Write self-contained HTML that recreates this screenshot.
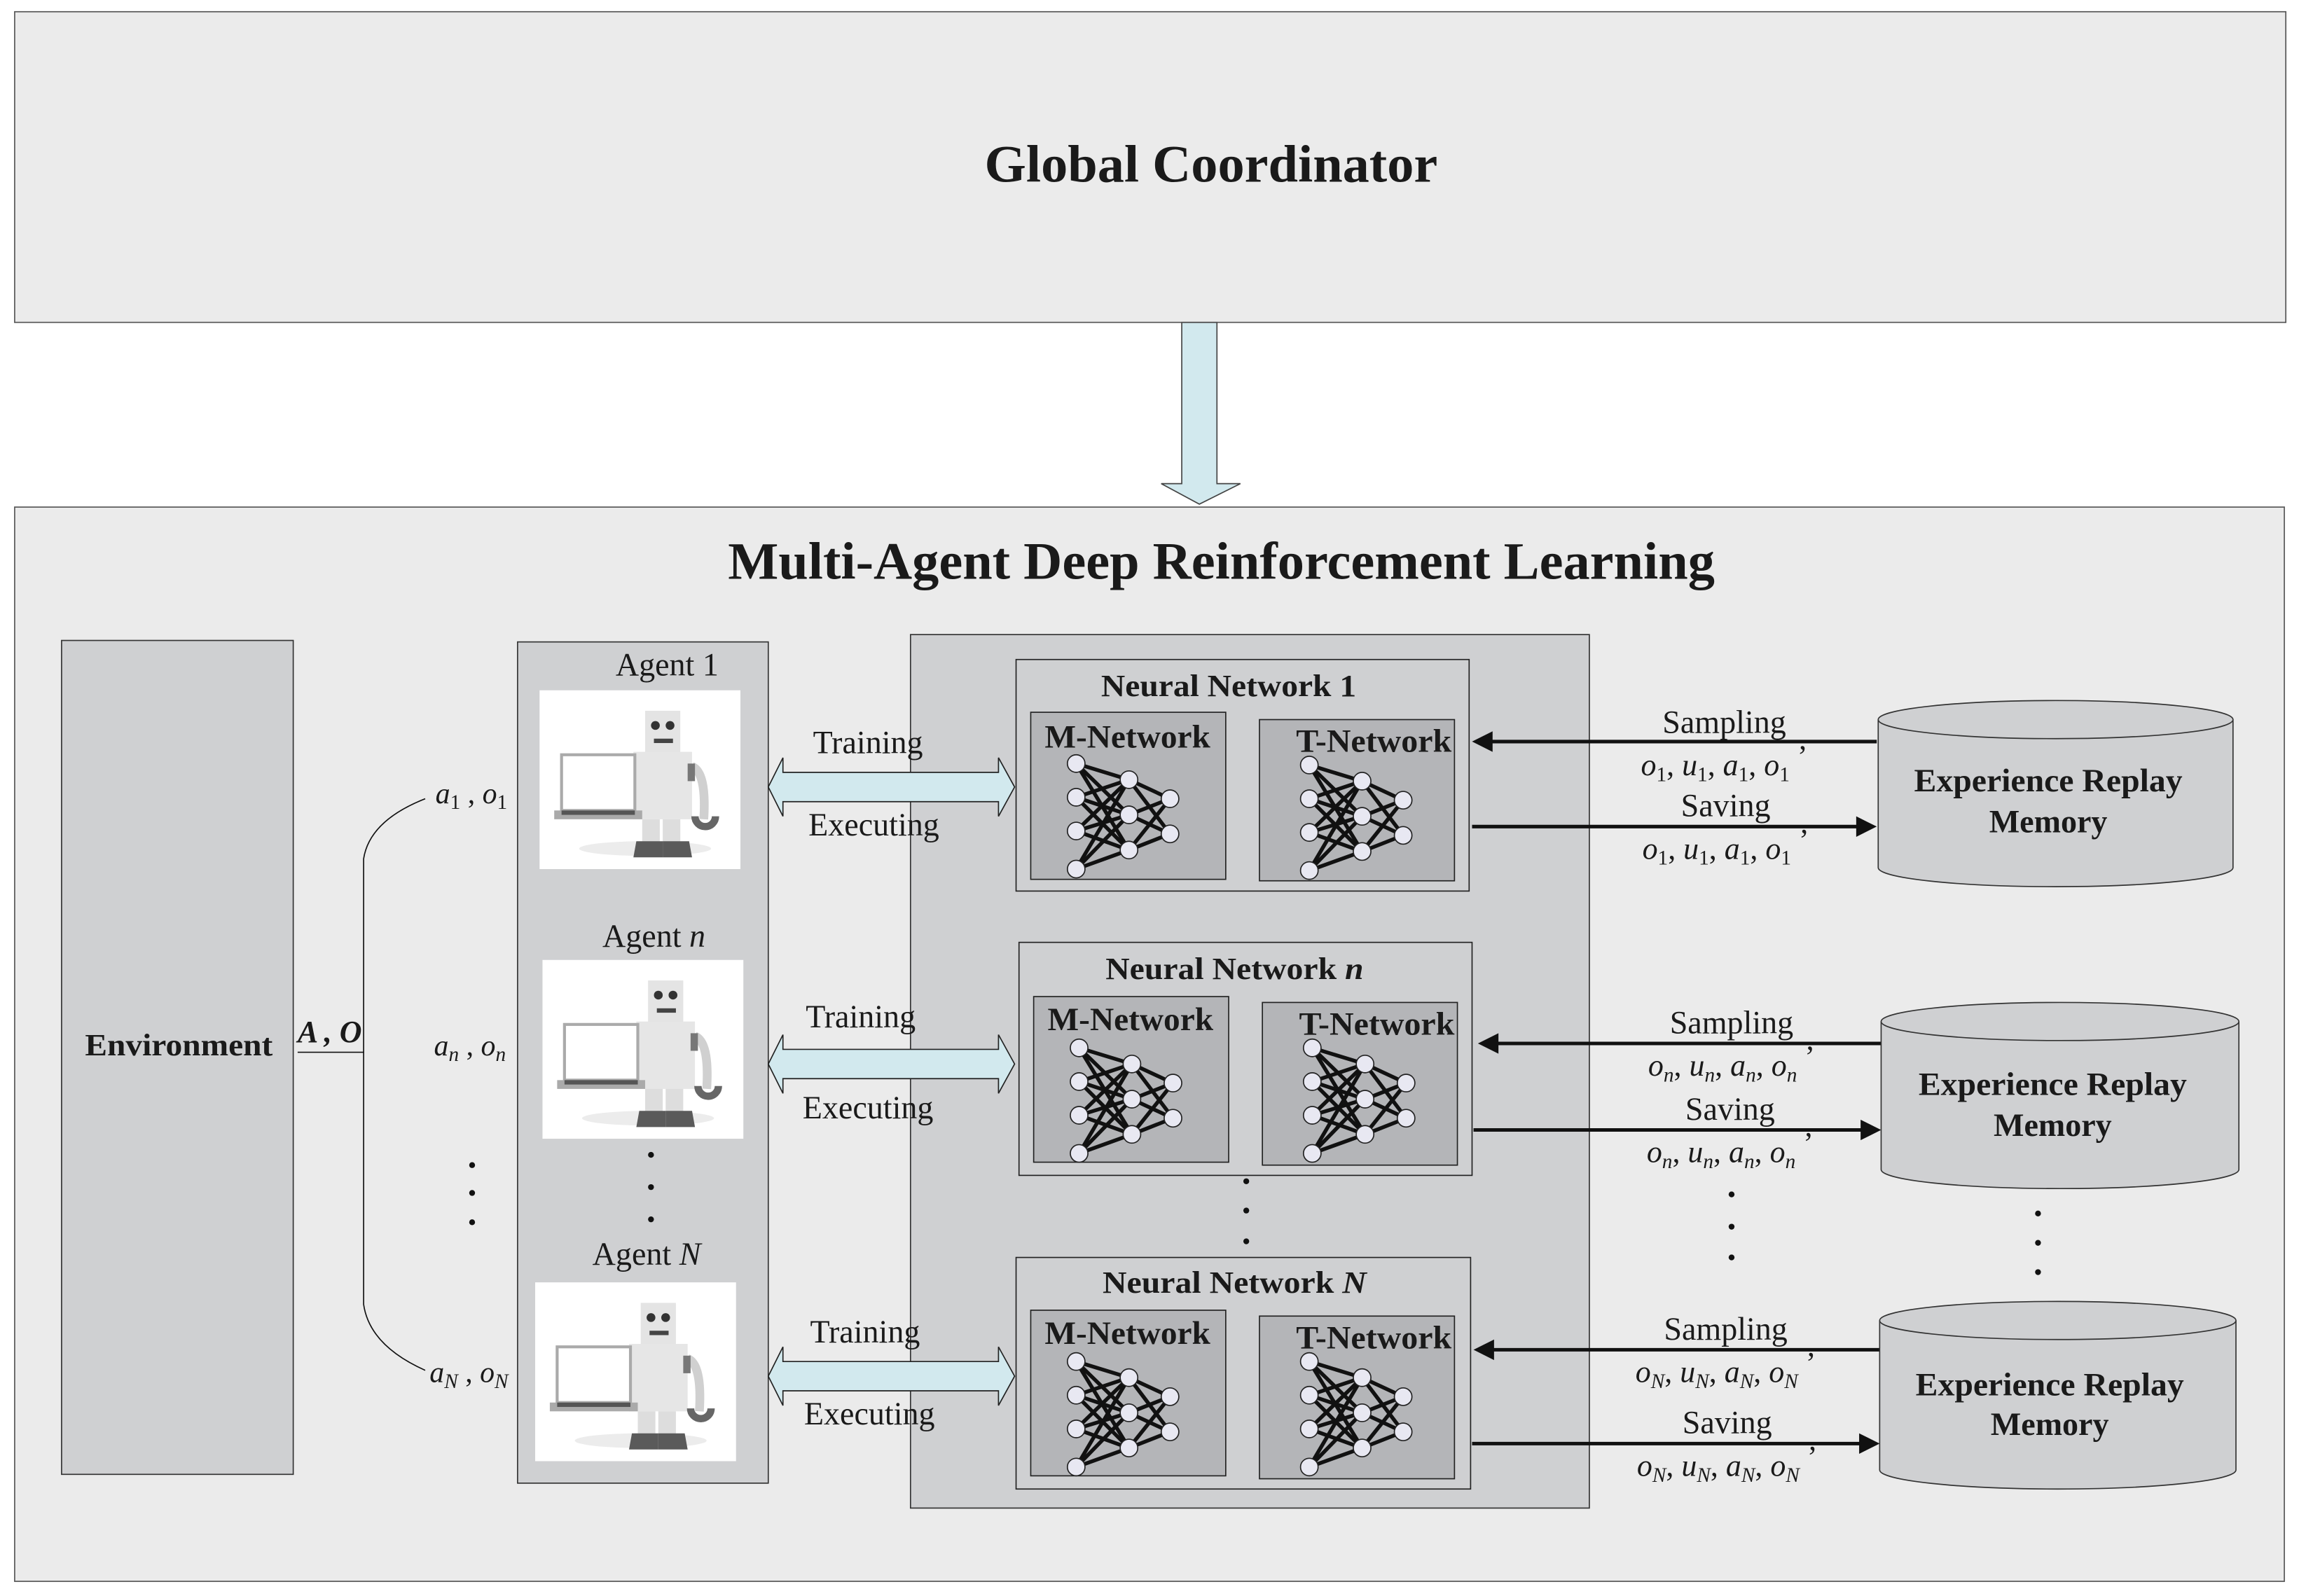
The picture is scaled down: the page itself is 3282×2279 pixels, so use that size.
<!DOCTYPE html>
<html><head><meta charset="utf-8"><style>
html,body{margin:0;padding:0;background:#fff;}
svg{display:block;}
text{font-family:"Liberation Serif",serif;fill:#1a1a1a;}
.b{font-weight:bold;}
.i{font-style:italic;}
</style></head><body>
<svg width="3282" height="2279" viewBox="0 0 1568 1089" preserveAspectRatio="none" xmlns="http://www.w3.org/2000/svg">
<defs>
<g id="robot">
<rect x="0" y="0" width="137" height="122" fill="#fff"/>
<ellipse cx="72" cy="108" rx="45" ry="5" fill="#ececec"/>
<rect x="72" y="14" width="24" height="30" fill="#e4e4e4"/>
<circle cx="79" cy="24" r="3" fill="#333"/><circle cx="89" cy="24" r="3" fill="#333"/>
<rect x="78" y="33" width="13" height="3" fill="#444"/>
<rect x="64" y="42" width="40" height="46" fill="#e6e6e6"/>
<path d="M104,52 Q114,56 112,88" stroke="#d0d0d0" stroke-width="6" fill="none"/>
<rect x="101" y="50" width="5" height="12" fill="#777"/>
<path d="M106,86 a7,7 0 1 0 14,0" stroke="#666" stroke-width="5" fill="none"/>
<rect x="15" y="44" width="50" height="38" fill="#fff" stroke="#aaa" stroke-width="2"/>
<rect x="10" y="82" width="60" height="6" fill="#aaa"/>
<rect x="15" y="82" width="50" height="3" fill="#555"/>
<rect x="70" y="88" width="12" height="18" fill="#ddd"/><rect x="84" y="88" width="12" height="18" fill="#ddd"/>
<path d="M66,103 L84,103 L84,114 L64,114 Z" fill="#5a5a5a"/><path d="M84,103 L102,103 L104,114 L84,114 Z" fill="#5a5a5a"/>
</g>
<g id="net" stroke="#111" stroke-width="2.6">
<line x1="31" y1="35" x2="67" y2="46"/><line x1="31" y1="35" x2="67" y2="70"/><line x1="31" y1="35" x2="67" y2="94"/>
<line x1="31" y1="58" x2="67" y2="46"/><line x1="31" y1="58" x2="67" y2="70"/><line x1="31" y1="58" x2="67" y2="94"/>
<line x1="31" y1="81" x2="67" y2="46"/><line x1="31" y1="81" x2="67" y2="70"/><line x1="31" y1="81" x2="67" y2="94"/>
<line x1="31" y1="107" x2="67" y2="46"/><line x1="31" y1="107" x2="67" y2="70"/><line x1="31" y1="107" x2="67" y2="94"/>
<line x1="67" y1="46" x2="95" y2="59"/><line x1="67" y1="46" x2="95" y2="83"/>
<line x1="67" y1="70" x2="95" y2="59"/><line x1="67" y1="70" x2="95" y2="83"/>
<line x1="67" y1="94" x2="95" y2="59"/><line x1="67" y1="94" x2="95" y2="83"/>
<g fill="#e8e8f2" stroke="#222" stroke-width="0.8">
<circle cx="31" cy="35" r="6"/><circle cx="31" cy="58" r="6"/><circle cx="31" cy="81" r="6"/><circle cx="31" cy="107" r="6"/>
<circle cx="67" cy="46" r="6"/><circle cx="67" cy="70" r="6"/><circle cx="67" cy="94" r="6"/>
<circle cx="95" cy="59" r="6"/><circle cx="95" cy="83" r="6"/>
</g>
</g>
<g id="darr">
<path d="M0,0 L10,-20 L10,-10 L157,-10 L157,-20 L168,0 L157,20 L157,10 L10,10 L10,20 Z" fill="#d2e9ee" stroke="#222" stroke-width="0.8"/>
</g>
</defs>
<rect width="1568" height="1089" fill="#fff"/>
<rect x="10" y="8" width="1549" height="212" fill="#ebebeb" stroke="#555" stroke-width="0.8"/>
<text x="826" y="124" font-size="36" class="b" text-anchor="middle" textLength="309" lengthAdjust="spacingAndGlyphs">Global Coordinator</text>
<path d="M806,220 L830,220 L830,330 L846,330 L818,344 L792,330 L806,330 Z" fill="#d2e9ee" stroke="#444" stroke-width="0.8"/>
<rect x="10" y="346" width="1548" height="733" fill="#ebebeb" stroke="#555" stroke-width="0.8"/>
<text x="833" y="395" font-size="36" class="b" text-anchor="middle" textLength="673" lengthAdjust="spacingAndGlyphs">Multi-Agent Deep Reinforcement Learning</text>
<rect x="42" y="437" width="158" height="569" fill="#cfd0d2" stroke="#333" stroke-width="0.8"/>
<text x="122" y="720" font-size="21" class="b" text-anchor="middle" textLength="128" lengthAdjust="spacingAndGlyphs">Environment</text>
<text x="203" y="711" font-size="21" class="b i">A , O</text>
<line x1="203" y1="718" x2="248" y2="718" stroke="#111" stroke-width="0.8"/>
<path d="M290,545 Q252,560 248,586 L248,890 Q252,918 290,935" stroke="#111" stroke-width="0.8" fill="none"/>
<text x="297" y="548" font-size="20"><tspan class="i">a</tspan><tspan font-size="14" dy="4">1</tspan><tspan dy="-4"> , </tspan><tspan class="i">o</tspan><tspan font-size="14" dy="4">1</tspan></text>
<text x="296" y="720" font-size="20"><tspan class="i">a</tspan><tspan font-size="14" dy="4" class="i">n</tspan><tspan dy="-4"> , </tspan><tspan class="i">o</tspan><tspan font-size="14" dy="4" class="i">n</tspan></text>
<text x="293" y="943" font-size="20"><tspan class="i">a</tspan><tspan font-size="14" dy="4" class="i">N</tspan><tspan dy="-4"> , </tspan><tspan class="i">o</tspan><tspan font-size="14" dy="4" class="i">N</tspan></text>
<g fill="#111"><circle cx="322" cy="795" r="2"/><circle cx="322" cy="814" r="2"/><circle cx="322" cy="834" r="2"/></g>
<rect x="353" y="438" width="171" height="574" fill="#cfd0d2" stroke="#333" stroke-width="0.8"/>
<text x="455" y="461" font-size="22" text-anchor="middle">Agent 1</text>
<use href="#robot" x="368" y="471"/>
<text x="446" y="646" font-size="22" text-anchor="middle">Agent <tspan class="i">n</tspan></text>
<use href="#robot" x="370" y="655"/>
<g fill="#111"><circle cx="444" cy="788" r="2"/><circle cx="444" cy="810" r="2"/><circle cx="444" cy="832" r="2"/></g>
<text x="441" y="863" font-size="22" text-anchor="middle">Agent <tspan class="i">N</tspan></text>
<use href="#robot" x="365" y="875"/>
<rect x="621" y="433" width="463" height="596" fill="#cfd0d2" stroke="#333" stroke-width="0.8"/>
<use href="#darr" x="524" y="537"/>
<use href="#darr" x="524" y="726"/>
<use href="#darr" x="524" y="939"/>
<g font-size="22" text-anchor="middle">
<text x="592" y="514">Training</text>
<text x="596" y="570">Executing</text>
<text x="587" y="701">Training</text>
<text x="592" y="763">Executing</text>
<text x="590" y="916">Training</text>
<text x="593" y="972">Executing</text>
</g>
<rect x="693" y="450" width="309" height="158" fill="#cfd0d2" stroke="#222" stroke-width="0.8"/>
<text x="838" y="475" font-size="21" class="b" text-anchor="middle" textLength="174" lengthAdjust="spacingAndGlyphs">Neural Network 1</text>
<rect x="703" y="486" width="133" height="114" fill="#b4b5b8" stroke="#222" stroke-width="0.8"/>
<text x="769" y="510" font-size="22" class="b" text-anchor="middle" textLength="113" lengthAdjust="spacingAndGlyphs">M-Network</text>
<use href="#net" x="703" y="486"/>
<rect x="859" y="491" width="133" height="110" fill="#b4b5b8" stroke="#222" stroke-width="0.8"/>
<text x="937" y="513" font-size="22" class="b" text-anchor="middle" textLength="106" lengthAdjust="spacingAndGlyphs">T-Network</text>
<use href="#net" x="862" y="487"/>
<rect x="695" y="643" width="309" height="159" fill="#cfd0d2" stroke="#222" stroke-width="0.8"/>
<text x="842" y="668" font-size="21" class="b" text-anchor="middle" textLength="176" lengthAdjust="spacingAndGlyphs">Neural Network <tspan class="i">n</tspan></text>
<rect x="705" y="680" width="133" height="113" fill="#b4b5b8" stroke="#222" stroke-width="0.8"/>
<text x="771" y="703" font-size="22" class="b" text-anchor="middle" textLength="113" lengthAdjust="spacingAndGlyphs">M-Network</text>
<use href="#net" x="705" y="680"/>
<rect x="861" y="684" width="133" height="111" fill="#b4b5b8" stroke="#222" stroke-width="0.8"/>
<text x="939" y="706" font-size="22" class="b" text-anchor="middle" textLength="106" lengthAdjust="spacingAndGlyphs">T-Network</text>
<use href="#net" x="864" y="680"/>
<g fill="#111"><circle cx="850" cy="806" r="2"/><circle cx="850" cy="826" r="2"/><circle cx="850" cy="847" r="2"/></g>
<rect x="693" y="858" width="310" height="158" fill="#cfd0d2" stroke="#222" stroke-width="0.8"/>
<text x="842" y="882" font-size="21" class="b" text-anchor="middle" textLength="180" lengthAdjust="spacingAndGlyphs">Neural Network <tspan class="i">N</tspan></text>
<rect x="703" y="894" width="133" height="113" fill="#b4b5b8" stroke="#222" stroke-width="0.8"/>
<text x="769" y="917" font-size="22" class="b" text-anchor="middle" textLength="113" lengthAdjust="spacingAndGlyphs">M-Network</text>
<use href="#net" x="703" y="894"/>
<rect x="859" y="898" width="133" height="111" fill="#b4b5b8" stroke="#222" stroke-width="0.8"/>
<text x="937" y="920" font-size="22" class="b" text-anchor="middle" textLength="106" lengthAdjust="spacingAndGlyphs">T-Network</text>
<use href="#net" x="862" y="894"/>
<g stroke="#111" stroke-width="2.4" fill="#111">
<line x1="1280" y1="506" x2="1016" y2="506"/><path d="M1004,506 L1018,499 L1018,513 Z" stroke="none"/>
<line x1="1004" y1="564" x2="1268" y2="564"/><path d="M1280,564 L1266,557 L1266,571 Z" stroke="none"/>
<line x1="1283" y1="712" x2="1020" y2="712"/><path d="M1008,712 L1022,705 L1022,719 Z" stroke="none"/>
<line x1="1005" y1="771" x2="1271" y2="771"/><path d="M1283,771 L1269,764 L1269,778 Z" stroke="none"/>
<line x1="1282" y1="921" x2="1017" y2="921"/><path d="M1005,921 L1019,914 L1019,928 Z" stroke="none"/>
<line x1="1004" y1="985" x2="1270" y2="985"/><path d="M1282,985 L1268,978 L1268,992 Z" stroke="none"/>
</g>
<g font-size="22" text-anchor="middle">
<text x="1176" y="500">Sampling</text>
<text x="1177" y="557">Saving</text>
<text x="1181" y="705">Sampling</text>
<text x="1180" y="764">Saving</text>
<text x="1177" y="914">Sampling</text>
<text x="1178" y="978">Saving</text>
</g>
<g font-size="21" text-anchor="middle">
<text x="1176" y="529"><tspan class="i">o</tspan><tspan font-size="14" dy="4">1</tspan><tspan dy="-4">, </tspan><tspan class="i">u</tspan><tspan font-size="14" dy="4">1</tspan><tspan dy="-4">, </tspan><tspan class="i">a</tspan><tspan font-size="14" dy="4">1</tspan><tspan dy="-4">, </tspan><tspan class="i">o</tspan><tspan font-size="14" dy="4">1</tspan><tspan dy="-10"> ’</tspan></text>
<text x="1177" y="586"><tspan class="i">o</tspan><tspan font-size="14" dy="4">1</tspan><tspan dy="-4">, </tspan><tspan class="i">u</tspan><tspan font-size="14" dy="4">1</tspan><tspan dy="-4">, </tspan><tspan class="i">a</tspan><tspan font-size="14" dy="4">1</tspan><tspan dy="-4">, </tspan><tspan class="i">o</tspan><tspan font-size="14" dy="4">1</tspan><tspan dy="-10"> ’</tspan></text>
<text x="1181" y="734"><tspan class="i">o</tspan><tspan font-size="14" dy="4" class="i">n</tspan><tspan dy="-4">, </tspan><tspan class="i">u</tspan><tspan font-size="14" dy="4" class="i">n</tspan><tspan dy="-4">, </tspan><tspan class="i">a</tspan><tspan font-size="14" dy="4" class="i">n</tspan><tspan dy="-4">, </tspan><tspan class="i">o</tspan><tspan font-size="14" dy="4" class="i">n</tspan><tspan dy="-10"> ’</tspan></text>
<text x="1180" y="793"><tspan class="i">o</tspan><tspan font-size="14" dy="4" class="i">n</tspan><tspan dy="-4">, </tspan><tspan class="i">u</tspan><tspan font-size="14" dy="4" class="i">n</tspan><tspan dy="-4">, </tspan><tspan class="i">a</tspan><tspan font-size="14" dy="4" class="i">n</tspan><tspan dy="-4">, </tspan><tspan class="i">o</tspan><tspan font-size="14" dy="4" class="i">n</tspan><tspan dy="-10"> ’</tspan></text>
<text x="1177" y="943"><tspan class="i">o</tspan><tspan font-size="14" dy="4" class="i">N</tspan><tspan dy="-4">, </tspan><tspan class="i">u</tspan><tspan font-size="14" dy="4" class="i">N</tspan><tspan dy="-4">, </tspan><tspan class="i">a</tspan><tspan font-size="14" dy="4" class="i">N</tspan><tspan dy="-4">, </tspan><tspan class="i">o</tspan><tspan font-size="14" dy="4" class="i">N</tspan><tspan dy="-10"> ’</tspan></text>
<text x="1178" y="1007"><tspan class="i">o</tspan><tspan font-size="14" dy="4" class="i">N</tspan><tspan dy="-4">, </tspan><tspan class="i">u</tspan><tspan font-size="14" dy="4" class="i">N</tspan><tspan dy="-4">, </tspan><tspan class="i">a</tspan><tspan font-size="14" dy="4" class="i">N</tspan><tspan dy="-4">, </tspan><tspan class="i">o</tspan><tspan font-size="14" dy="4" class="i">N</tspan><tspan dy="-10"> ’</tspan></text>
</g>
<g fill="#111"><circle cx="1181" cy="815" r="2"/><circle cx="1181" cy="837" r="2"/><circle cx="1181" cy="858" r="2"/>
<circle cx="1390" cy="828" r="2"/><circle cx="1390" cy="848" r="2"/><circle cx="1390" cy="868" r="2"/></g>
<g fill="#cfd0d2" stroke="#333" stroke-width="0.8">
<path d="M1281,491 L1281,592 A121,13 0 0 0 1523,592 L1523,491"/><ellipse cx="1402" cy="491" rx="121" ry="13"/>
<path d="M1283,697 L1283,798 A122,13 0 0 0 1527,798 L1527,697"/><ellipse cx="1405" cy="697" rx="122" ry="13"/>
<path d="M1282,901 L1282,1003 A121.5,13 0 0 0 1525,1003 L1525,901"/><ellipse cx="1403.5" cy="901" rx="121.5" ry="13"/>
</g>
<g font-size="22" class="b" text-anchor="middle">
<text x="1397" y="540" textLength="183" lengthAdjust="spacingAndGlyphs">Experience Replay</text><text x="1397" y="568">Memory</text>
<text x="1400" y="747" textLength="183" lengthAdjust="spacingAndGlyphs">Experience Replay</text><text x="1400" y="775">Memory</text>
<text x="1398" y="952" textLength="183" lengthAdjust="spacingAndGlyphs">Experience Replay</text><text x="1398" y="979">Memory</text>
</g>
</svg>
</body></html>
